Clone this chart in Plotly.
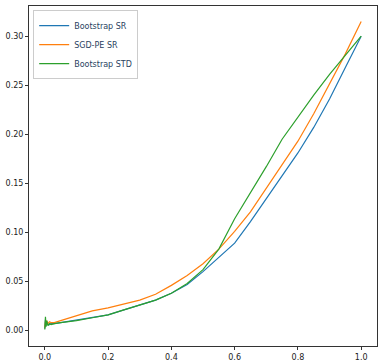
import plotly.graph_objects as go

# shared x grid (fraction)
x = [0.0, 0.002, 0.004, 0.006, 0.01, 0.015, 0.02, 0.03, 0.05, 0.1, 0.15, 0.2, 0.25,
     0.3, 0.35, 0.4, 0.45, 0.5, 0.55, 0.6, 0.65, 0.7, 0.75, 0.8, 0.85, 0.9, 0.95, 1.0]

bootstrap_sr = [0.002, 0.011, 0.005, 0.008, 0.006, 0.006, 0.007, 0.007, 0.008, 0.0105,
                0.0135, 0.016, 0.021, 0.026, 0.031, 0.038, 0.047, 0.060, 0.074, 0.089,
                0.111, 0.134, 0.158, 0.181, 0.207, 0.236, 0.268, 0.300]

sgd_pe_sr = [0.003, 0.009, 0.006, 0.010, 0.007, 0.009, 0.008, 0.008, 0.010, 0.015,
             0.020, 0.023, 0.027, 0.031, 0.037, 0.046, 0.056, 0.068, 0.083, 0.101,
             0.121, 0.145, 0.169, 0.193, 0.221, 0.252, 0.282, 0.315]

bootstrap_std = [0.001, 0.014, 0.004, 0.010, 0.005, 0.007, 0.006, 0.007, 0.008, 0.010,
                 0.013, 0.016, 0.021, 0.026, 0.031, 0.038, 0.048, 0.062, 0.083, 0.114,
                 0.140, 0.167, 0.195, 0.218, 0.240, 0.261, 0.281, 0.300]

series = [("Bootstrap SR", bootstrap_sr, "#1f77b4"),
          ("SGD-PE SR", sgd_pe_sr, "#ff7f0e"),
          ("Bootstrap STD", bootstrap_std, "#2ca02c")]

fig = go.Figure()
for name, ys, color in series:
    fig.add_trace(go.Scatter(x=x, y=ys, mode="lines", name=name,
                             line=dict(color=color, width=1.2)))

axis_style = dict(showgrid=False, zeroline=False, showline=True, mirror=True,
                  linecolor="#333", linewidth=1, ticks="outside", ticklen=3,
                  tickcolor="#333", tickfont=dict(size=8, color="#222"),
                  automargin=False)

fig.update_xaxes(range=[-0.05, 1.05], dtick=0.2, tickformat=".1f", **axis_style)
fig.update_yaxes(range=[-0.0158, 0.3308], dtick=0.05, tickformat=".2f", **axis_style)

fig.update_layout(
    width=384, height=364,
    margin=dict(l=29, r=7, t=6, b=18),
    plot_bgcolor="white", paper_bgcolor="white",
    font=dict(family="DejaVu Sans", size=8),
    legend=dict(x=0.012, y=0.988, xanchor="left", yanchor="top",
                bgcolor="white", bordercolor="#ccc", borderwidth=1,
                font=dict(size=8), tracegroupgap=0, itemwidth=30),
)

# drop the default 8px body margin so the figure sits at the window corner
fig.write_html("out.html", config={"displayModeBar": False},
               post_script="document.body.style.margin='0';document.body.style.overflow='hidden';")
